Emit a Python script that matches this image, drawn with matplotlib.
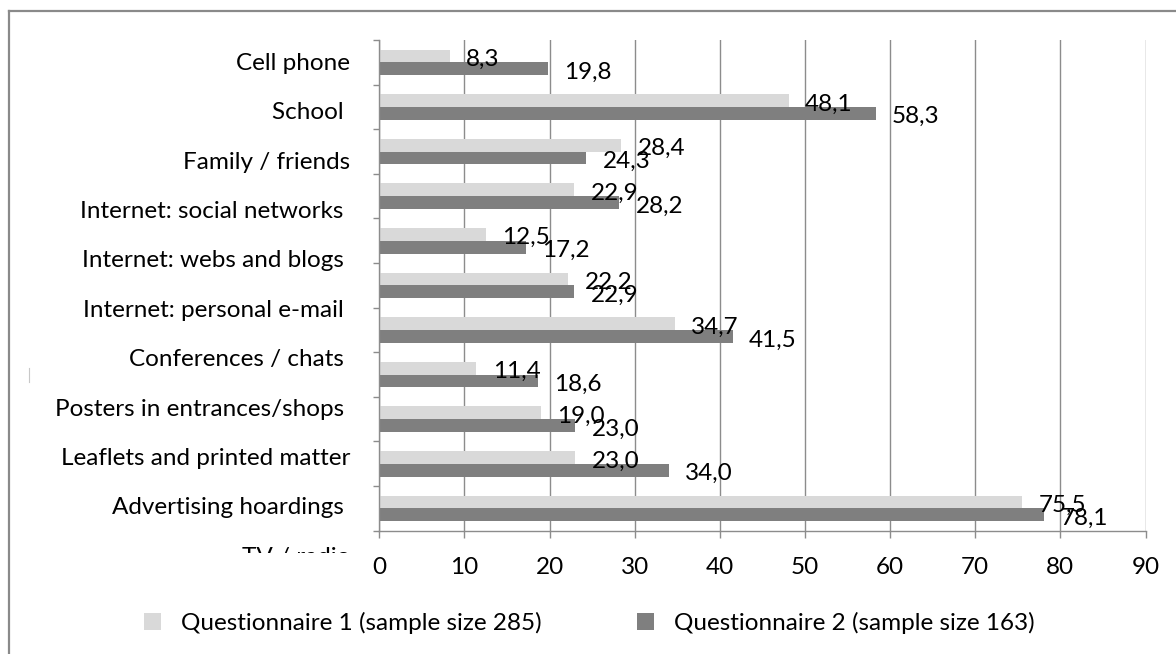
import numpy as np
import matplotlib
matplotlib.use("Agg")
import matplotlib.pyplot as plt
from matplotlib.lines import Line2D

# ---- data -------------------------------------------------------------
categories = [
    "Cell phone",
    "School ",
    "Family / friends",
    "Internet: social networks ",
    "Internet: webs and blogs ",
    "Internet: personal e-mail ",
    "Conferences / chats ",
    "Posters in entrances/shops ",
    "Leaflets and printed matter",
    "Advertising hoardings ",
    "TV / radio",
]
q1_values = [8.3, 48.1, 28.4, 22.9, 12.5, 22.2, 34.7, 11.4, 19.0, 23.0, 75.5]
q2_values = [19.8, 58.3, 24.3, 28.2, 17.2, 22.9, 41.5, 18.6, 23.0, 34.0, 78.1]
series_names = ["Questionnaire 1 (sample size 285)",
                "Questionnaire 2 (sample size 163)"]
x_ticks = [0, 10, 20, 30, 40, 50, 60, 70, 80, 90]

# ---- style ------------------------------------------------------------
plt.rcParams["font.family"] = ["Lato", "DejaVu Sans"]
LIGHT = "#D9D9D9"
DARK = "#7F7F7F"
GRID = "#8C8C8C"
FS = 17.5

W, H = 1176, 654
fig = plt.figure(figsize=(W / 100, H / 100), dpi=100)
fig.patch.set_facecolor("white")


def fx(px):
    return px / W


def fy(py):
    return 1 - py / H


# plot area
left, right, top, bottom = 379.3, 1145.5, 40.0, 530.7
ax = fig.add_axes([fx(left), fy(bottom), fx(right - left), (bottom - top) / H])

n = len(categories)
ypos = np.arange(n)
bh = 0.287
bars1 = ax.barh(ypos - bh / 2, q1_values, height=bh, color=LIGHT, zorder=2)
bars2 = ax.barh(ypos + bh / 2, q2_values, height=bh, color=DARK, zorder=2)

ax.set_xlim(0, 90)
ax.set_ylim(n - 0.5, -0.5)
ax.set_xticks(x_ticks)
ax.set_xticklabels([str(t) for t in x_ticks], fontsize=FS)
ax.set_yticks(np.arange(-0.5, n, 1.0))
ax.set_yticklabels([])
ax.xaxis.grid(True, color=GRID, lw=1.0, zorder=0)
ax.set_axisbelow(True)
for s in ("top", "right"):
    ax.spines[s].set_visible(False)
for s in ("left", "bottom"):
    ax.spines[s].set_color(GRID)
    ax.spines[s].set_linewidth(1.0)
ax.tick_params(axis="x", direction="out", length=5, width=1.0, color=GRID,
               pad=14, labelcolor="black")
ax.tick_params(axis="y", direction="out", length=4.3, width=1.0, color=GRID)

# value labels
def fmt(v):
    return f"{v:.1f}".replace(".", ",")

for bars, vals in ((bars1, q1_values), (bars2, q2_values)):
    for rect, v in zip(bars, vals):
        yc = rect.get_y() + rect.get_height() / 2
        ax.annotate(fmt(v), xy=(v, yc), xytext=(11.8, -7.2),
                    textcoords="offset points", ha="left", va="baseline",
                    fontsize=FS, color="black", zorder=3)

# category labels, laid out in their own clipped strip on the left
lab_top, lab_bottom = 40.0, 553.0
lab_ax = fig.add_axes([0, fy(lab_bottom), fx(left), (lab_bottom - lab_top) / H])
lab_ax.set_xlim(0, left)
lab_ax.set_ylim(lab_bottom, lab_top)
lab_ax.axis("off")
for i, name in enumerate(categories):
    lab_ax.text(350, 63.3 + 49.4 * i, name, ha="right", va="center",
                fontsize=FS, color="black", clip_on=True)

# legend
for bars, name, x0 in ((bars1, series_names[0], 144), (bars2, series_names[1], 637)):
    fig.legend([bars], [name], loc="center left",
               bbox_to_anchor=(fx(x0), fy(623)), frameon=False,
               fontsize=FS, handlelength=0.68, handleheight=0.64,
               handletextpad=0.85, borderpad=0, borderaxespad=0)

# chart frame
fig.add_artist(Line2D([fx(9), fx(9)], [fy(11), fy(H + 10)],
                      transform=fig.transFigure, color="#8A8A8A", lw=1.6))
fig.add_artist(Line2D([fx(9), fx(W + 10)], [fy(11), fy(11)],
                      transform=fig.transFigure, color="#8A8A8A", lw=1.6))
fig.add_artist(Line2D([fx(28.5), fx(28.5)], [fy(368), fy(382)],
                      transform=fig.transFigure, color="#C8C8C8", lw=0.8))

fig.savefig("out.png", dpi=100)
